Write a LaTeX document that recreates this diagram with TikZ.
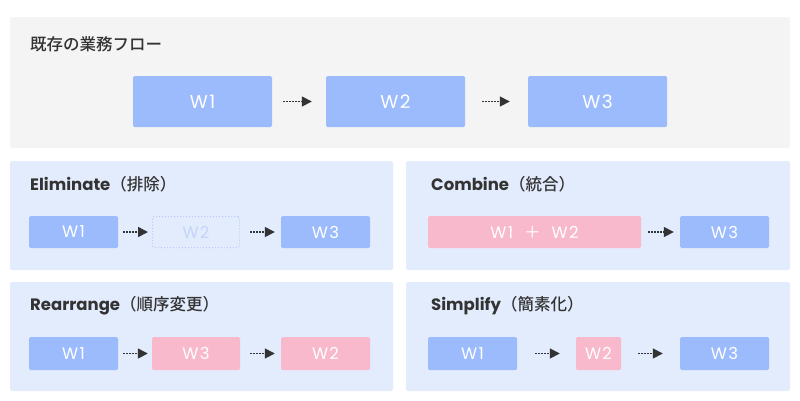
\documentclass[tikz,border=0pt]{standalone}
\usepackage{fontspec}
\setmainfont{Poppins}
\newfontfamily\jp{Noto Sans CJK JP Medium}
\newfontfamily\jpl{Noto Sans CJK JP}
\newfontfamily\wf[LetterSpace=8]{Poppins}
\usetikzlibrary{arrows.meta}
\definecolor{bgtop}{HTML}{F4F4F4}
\definecolor{panelbg}{HTML}{E3ECFD}
\definecolor{boxblue}{HTML}{9CBBFC}
\definecolor{boxpink}{HTML}{F8B9CD}
\definecolor{txt}{HTML}{333333}
\definecolor{ghost}{HTML}{B8CCF6}
\definecolor{ghosttxt}{HTML}{C4D5FA}
\tikzset{
  panel/.style={rounded corners=2pt},
  wbox/.style={rectangle, rounded corners=1.5pt, text=white, inner sep=0pt,
    font=\wf\fontsize{16.5}{16.5}\selectfont},
  bigbox/.style={font=\wf\fontsize{18.5}{18.5}\selectfont},
  bluebox/.style={wbox, fill=boxblue},
  pinkbox/.style={wbox, fill=boxpink},
  ghostbox/.style={wbox, draw=ghost, line width=1pt, dash pattern=on 1pt off 2pt, text=ghosttxt},
  title/.style={anchor=west, inner sep=0pt, text=txt, font=\fontsize{16.5}{16.5}\selectfont},
  flow/.style={draw=txt, line width=1.5pt, dash pattern=on 1.5pt off 1.5pt,
    -{Triangle[length=10pt,width=10pt]}},
}
\begin{document}
\begin{tikzpicture}[x=1pt,y=-1pt]
\useasboundingbox (0,0) rectangle (800,400);
\fill[white] (0,0) rectangle (800,400);
% panels
\fill[bgtop, panel] (10,17) rectangle (790,148);
\fill[panelbg, panel] (10,161) rectangle (393,270);
\fill[panelbg, panel] (406,161) rectangle (790,270);
\fill[panelbg, panel] (10,282) rectangle (393,391);
\fill[panelbg, panel] (406,282) rectangle (790,391);
% titles
\node[title] (t0) at (30,44) {\jp 既存の業務フロー};
\node[title] (t1) at (30,184) {\textbf{Eliminate}{\jp （排除）}};
\node[title] (t2) at (431,184) {\textbf{Combine}{\jp （統合）}};
\node[title] (t3) at (30,306) {\textbf{Rearrange}{\jp （順序変更）}};
\node[title] (t4) at (431,306) {\textbf{Simplify}{\jp （簡素化）}};
% top flow
\node[bluebox, bigbox, minimum width=139pt, minimum height=51pt] (a1) at (202.5,101.5) {W1};
\node[bluebox, bigbox, minimum width=139pt, minimum height=51pt] (a2) at (395.5,101.5) {W2};
\node[bluebox, bigbox, minimum width=139pt, minimum height=51pt] (a3) at (597.5,101.5) {W3};
\draw[flow, shorten <=11pt, shorten >=14pt] (a1) -- (a2);
\draw[flow, shorten <=17pt, shorten >=18pt] (a2) -- (a3);
% eliminate
\node[bluebox, minimum width=89pt, minimum height=32pt] (e1) at (73.5,232) {W1};
\node[ghostbox, minimum width=87pt, minimum height=31pt] (e2) at (196,232) {W2};
\node[bluebox, minimum width=89pt, minimum height=32pt] (e3) at (325.5,232) {W3};
\draw[flow, shorten <=5pt, shorten >=4pt] (e1) -- (e2);
\draw[flow, shorten <=10pt, shorten >=6pt] (e2) -- (e3);
% combine
\node[pinkbox, minimum width=213pt, minimum height=32pt] (c1) at (534.5,232) {W1\hspace{11pt}{\jpl ＋}\hspace{11pt}W2};
\node[bluebox, minimum width=89pt, minimum height=32pt] (c2) at (724.5,232) {W3};
\draw[flow, shorten <=7pt, shorten >=6pt] (c1) -- (c2);
% rearrange
\node[bluebox, minimum width=89pt, minimum height=33pt] (r1) at (73.5,353.5) {W1};
\node[pinkbox, minimum width=88pt, minimum height=33pt] (r2) at (196,353.5) {W3};
\node[pinkbox, minimum width=89pt, minimum height=33pt] (r3) at (325.5,353.5) {W2};
\draw[flow, shorten <=5pt, shorten >=4pt] (r1) -- (r2);
\draw[flow, shorten <=10pt, shorten >=6pt] (r2) -- (r3);
% simplify
\node[bluebox, minimum width=89pt, minimum height=33pt] (s1) at (472.5,353.5) {W1};
\node[pinkbox, minimum width=45pt, minimum height=33pt] (s2) at (598.5,353.5) {W2};
\node[bluebox, minimum width=89pt, minimum height=33pt] (s3) at (724.5,353.5) {W3};
\draw[flow, shorten <=18pt, shorten >=16pt] (s1) -- (s2);
\draw[flow, shorten <=17pt, shorten >=17pt] (s2) -- (s3);
\end{tikzpicture}
\end{document}
